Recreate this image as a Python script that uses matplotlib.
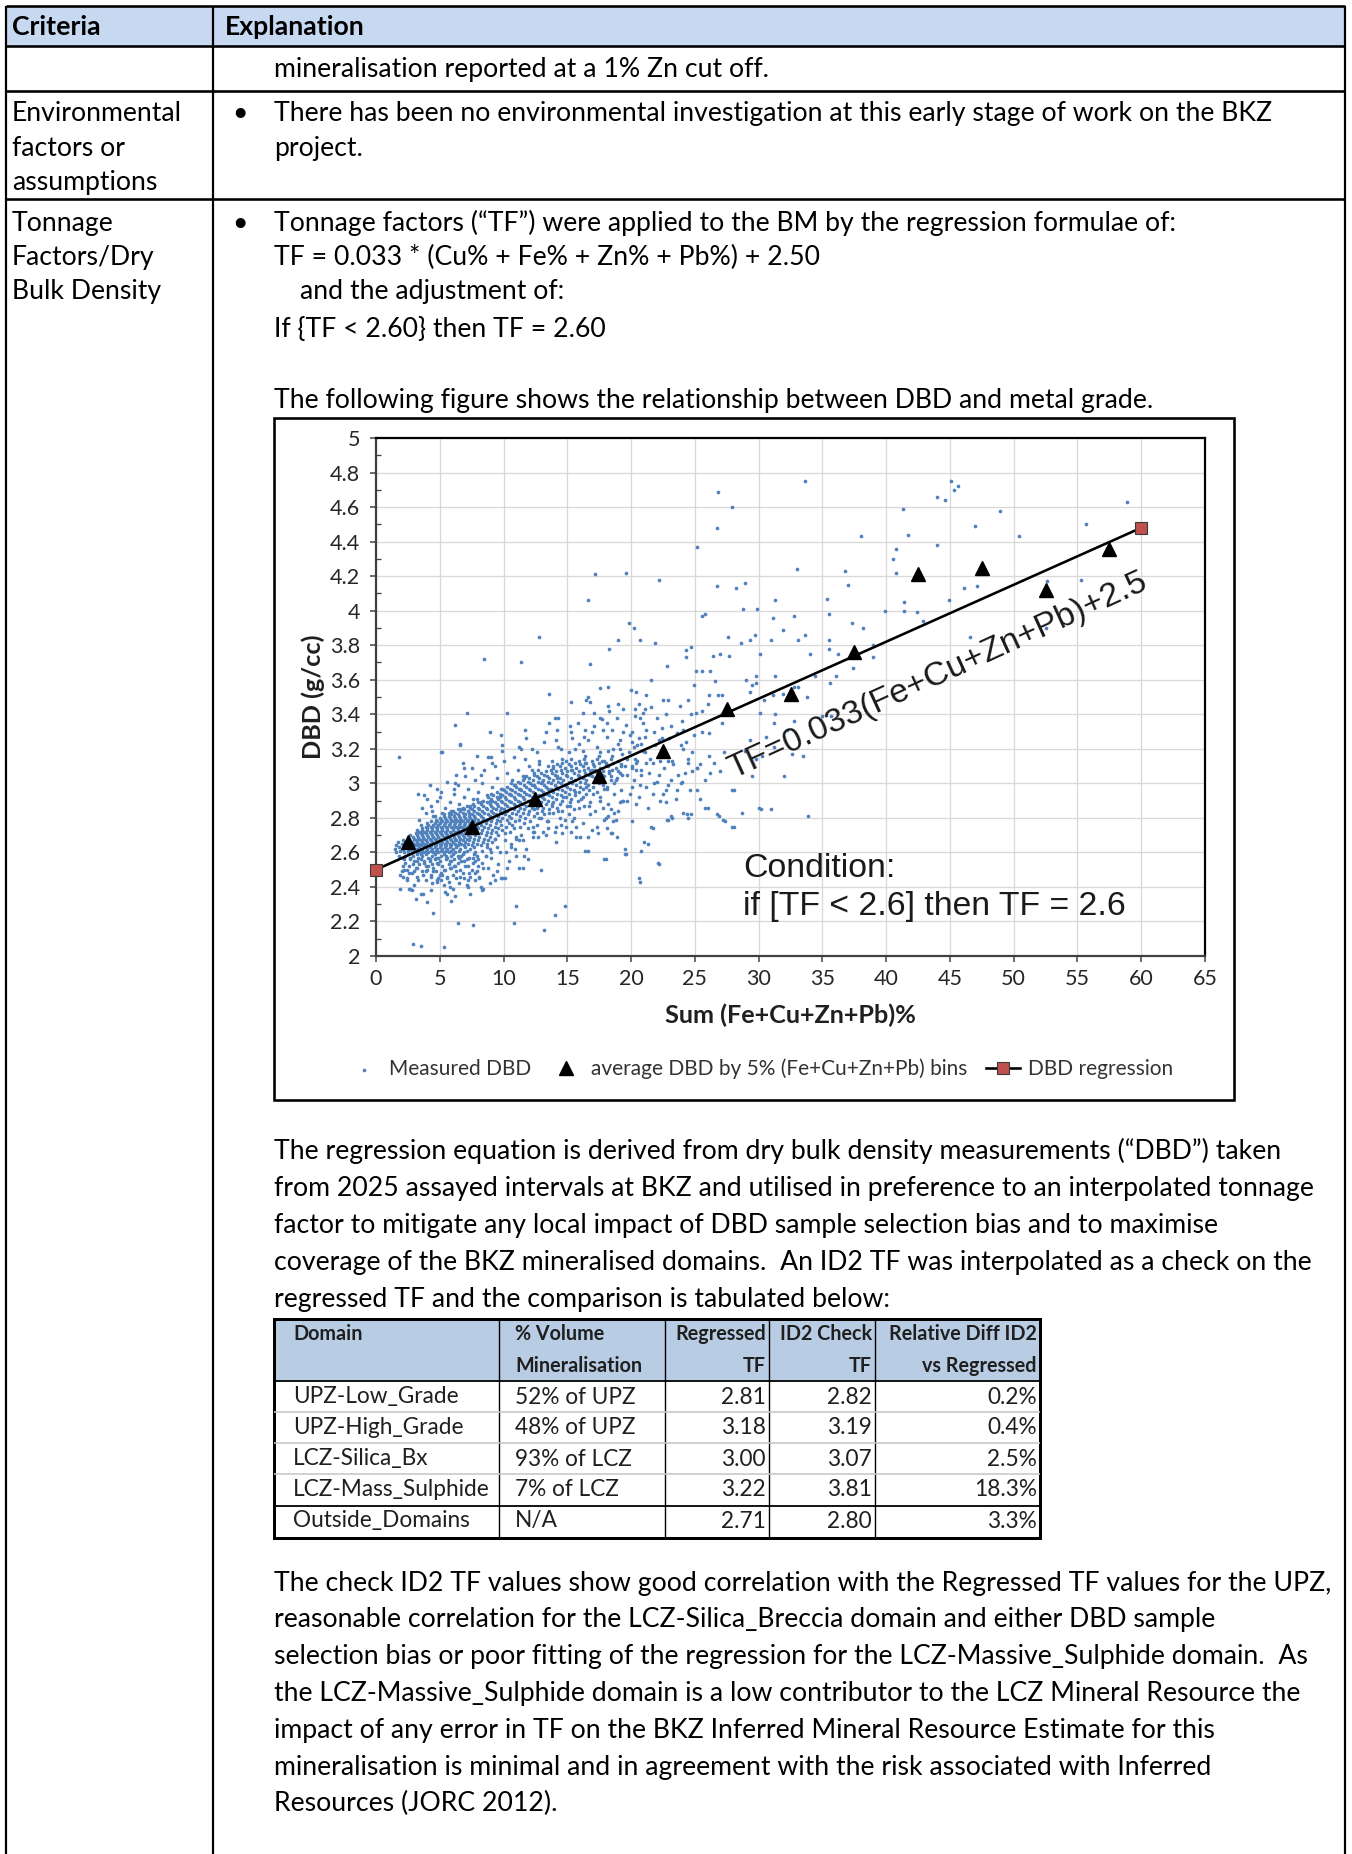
import matplotlib
matplotlib.use('Agg')
import matplotlib.pyplot as plt
from matplotlib.patches import Rectangle
from matplotlib.ticker import MultipleLocator, FuncFormatter
from matplotlib.textpath import TextToPath
from matplotlib.font_manager import FontProperties

W, H, DPI = 1352, 1854, 100
SANS = ['Lato', 'DejaVu Sans']
ARIAL = ['Liberation Sans', 'DejaVu Sans']
plt.rcParams['font.family'] = SANS

# ---------------- chart data ----------------
bin_mid = [2.5, 7.5, 12.5, 17.5, 22.5, 27.5, 32.5, 37.5, 42.5, 47.5, 52.5, 57.5]
bin_avg = [2.66, 2.75, 2.91, 3.04, 3.19, 3.43, 3.52, 3.76, 4.21, 4.25, 4.12, 4.36]
reg_x = [0, 60]
reg_y = [2.50, 4.48]
x_ticks = [0, 5, 10, 15, 20, 25, 30, 35, 40, 45, 50, 55, 60, 65]
y_ticks = [2, 2.2, 2.4, 2.6, 2.8, 3, 3.2, 3.4, 3.6, 3.8, 4, 4.2, 4.4, 4.6, 4.8, 5]

# dense cloud of measured DBD, one row per DBD value
core_rows = [
    (2.45, [2.4, 4.9, 6.3, 8.1]),
    (2.46, [3.2, 5.6, 7.4]),
    (2.47, [1.9, 4.3, 6.0, 9.2]),
    (2.48, [2.8, 5.1, 6.8]),
    (2.49, [3.6, 4.7, 7.9]),
    (2.50, [2.2, 4.0, 5.4, 6.6]),
    (2.51, [3.1, 4.5, 5.9, 8.4]),
    (2.52, [2.6, 3.9, 5.2, 6.2, 7.2]),
    (2.53, [3.4, 4.4, 5.7, 9.6]),
    (2.54, [2.3, 3.8, 4.8, 6.4, 7.6]),
    (2.55, [3.0, 4.2, 5.0, 5.8, 6.9]),
    (2.56, [2.7, 3.5, 4.6, 5.5, 6.1, 8.0]),
    (2.57, [2.1, 3.3, 4.1, 4.9, 5.6, 6.5, 7.3]),
    (2.58, [1.8, 2.9, 3.6, 4.4, 5.1, 5.9, 6.7, 8.6]),
    (2.59, [2.5, 3.2, 3.9, 4.6, 5.3, 6.0, 6.8, 7.7]),
    (2.60, [1.6, 2.2, 2.8, 3.3, 3.7, 4.1, 4.5, 4.9, 5.3, 5.7, 6.2, 6.9, 7.8, 10.2]),
    (2.61, [1.9, 2.5, 3.0, 3.5, 3.9, 4.3, 4.7, 5.1, 5.5, 5.9, 6.5, 7.1, 8.3]),
    (2.62, [1.5, 2.1, 2.7, 3.2, 3.6, 4.0, 4.4, 4.8, 5.2, 5.6, 6.0, 6.6, 7.4, 8.9]),
    (2.63, [1.8, 2.4, 2.9, 3.4, 3.8, 4.2, 4.6, 5.0, 5.4, 5.8, 6.3, 7.0, 7.7, 9.5]),
    (2.64, [1.6, 2.2, 2.7, 3.1, 3.5, 3.9, 4.3, 4.7, 5.1, 5.5, 5.9, 6.4, 6.9, 7.5, 8.2]),
    (2.65, [2.0, 2.5, 3.0, 3.4, 3.8, 4.2, 4.6, 5.0, 5.4, 5.8, 6.2, 6.7, 7.2, 7.9, 8.7, 10.6]),
    (2.66, [1.7, 2.3, 2.8, 3.2, 3.6, 4.0, 4.4, 4.8, 5.2, 5.6, 6.0, 6.5, 7.0, 7.6, 8.4, 9.1]),
    (2.67, [2.1, 2.6, 3.1, 3.5, 3.9, 4.3, 4.7, 5.1, 5.5, 5.9, 6.3, 6.8, 7.3, 8.0, 8.8]),
    (2.68, [2.6, 3.0, 3.4, 3.8, 4.2, 4.6, 5.0, 5.4, 5.8, 6.2, 6.6, 7.1, 7.7, 8.5, 9.3, 11.0]),
    (2.69, [2.9, 3.3, 3.7, 4.1, 4.5, 4.9, 5.3, 5.7, 6.1, 6.5, 6.9, 7.4, 8.1, 8.9]),
    (2.70, [2.7, 3.2, 3.6, 4.0, 4.4, 4.8, 5.2, 5.6, 6.0, 6.4, 6.8, 7.2, 7.8, 8.6, 9.6, 11.4]),
    (2.71, [3.1, 3.5, 3.9, 4.3, 4.7, 5.1, 5.5, 5.9, 6.3, 6.7, 7.1, 7.5, 8.2, 9.0, 10.1]),
    (2.72, [3.4, 3.8, 4.2, 4.6, 5.0, 5.4, 5.8, 6.2, 6.6, 7.0, 7.4, 7.9, 8.7, 9.4, 10.5, 12.3]),
    (2.73, [3.2, 3.6, 4.0, 4.4, 4.8, 5.2, 5.6, 6.0, 6.4, 6.8, 7.2, 7.6, 8.3, 9.1, 9.9]),
    (2.74, [3.6, 4.0, 4.4, 4.8, 5.2, 5.6, 6.0, 6.4, 6.8, 7.2, 7.6, 8.0, 8.8, 9.6, 10.8, 11.9]),
    (2.75, [3.9, 4.3, 4.7, 5.1, 5.5, 5.9, 6.3, 6.7, 7.1, 7.5, 7.9, 8.5, 9.3, 10.2, 11.3]),
    (2.76, [3.5, 4.1, 4.5, 4.9, 5.3, 5.7, 6.1, 6.5, 6.9, 7.3, 7.7, 8.2, 8.9, 9.8, 10.7, 12.6]),
    (2.77, [4.0, 4.6, 5.0, 5.4, 5.8, 6.2, 6.6, 7.0, 7.4, 7.9, 8.6, 9.4, 10.4, 11.6]),
    (2.78, [4.3, 4.8, 5.2, 5.6, 6.0, 6.4, 6.8, 7.2, 7.7, 8.3, 9.0, 9.7, 10.9, 12.1, 13.5]),
    (2.79, [4.7, 5.1, 5.5, 5.9, 6.3, 6.7, 7.1, 7.5, 8.0, 8.7, 9.5, 10.3, 11.2]),
    (2.80, [5.0, 5.4, 5.8, 6.2, 6.6, 7.0, 7.4, 7.8, 8.4, 9.1, 9.9, 10.6, 11.7, 12.8, 14.4]),
    (2.81, [4.5, 5.3, 5.7, 6.1, 6.5, 6.9, 7.3, 7.7, 8.2, 8.9, 9.6, 10.4, 11.3, 12.4]),
    (2.82, [5.3, 5.9, 6.4, 7.0, 7.5, 8.1, 8.8, 9.4, 10.1, 11.0, 11.9, 13.2, 15.1]),
    (2.83, [5.7, 6.2, 6.8, 7.3, 7.9, 8.5, 9.2, 9.9, 10.7, 11.5, 12.6, 13.9]),
    (2.84, [6.0, 6.6, 7.2, 7.7, 8.3, 9.0, 9.7, 10.3, 11.1, 12.0, 13.0, 14.6]),
    (2.85, [6.4, 6.9, 7.5, 8.1, 8.7, 9.4, 10.0, 10.8, 11.6, 12.4, 13.6, 15.5]),
    (2.86, [6.8, 7.4, 8.0, 8.6, 9.2, 9.8, 10.5, 11.3, 12.2, 13.1, 14.2]),
    (2.87, [7.1, 7.7, 8.4, 9.0, 9.6, 10.3, 11.0, 11.8, 12.7, 13.8, 15.0, 16.3]),
    (2.88, [7.6, 8.2, 8.9, 9.5, 10.1, 10.8, 11.5, 12.3, 13.3, 14.4]),
    (2.89, [8.0, 8.7, 9.3, 9.9, 10.6, 11.3, 12.1, 12.9, 13.9, 15.2, 16.8]),
    (2.90, [8.4, 9.1, 9.8, 10.4, 11.1, 11.9, 12.6, 13.5, 14.6, 15.8]),
    (2.91, [7.9, 9.0, 9.6, 10.2, 10.9, 11.6, 12.4, 13.2, 14.1, 15.3]),
    (2.92, [8.8, 9.5, 10.1, 10.8, 11.5, 12.2, 13.0, 13.8, 14.9, 16.2, 17.6]),
    (2.93, [9.2, 9.9, 10.6, 11.3, 12.0, 12.8, 13.6, 14.5, 15.6]),
    (2.94, [9.0, 9.7, 10.4, 11.1, 11.8, 12.5, 13.3, 14.2, 15.1, 16.5]),
    (2.95, [9.5, 10.2, 10.9, 11.6, 12.3, 13.1, 13.9, 14.8, 15.9, 17.3]),
    (2.96, [10.0, 10.7, 11.4, 12.1, 12.9, 13.7, 14.6, 15.5, 16.7]),
    (2.97, [9.8, 10.5, 11.2, 12.0, 12.7, 13.5, 14.3, 15.2, 16.2, 18.1]),
    (2.98, [10.3, 11.0, 11.8, 12.5, 13.3, 14.1, 15.0, 16.0, 17.0]),
    (2.99, [10.8, 11.6, 12.4, 13.2, 14.0, 14.8, 15.7, 16.6, 17.8]),
    (3.00, [10.6, 11.3, 12.1, 12.9, 13.7, 14.5, 15.4, 16.4, 17.5, 18.7]),
    (3.01, [11.1, 11.9, 12.7, 13.5, 14.3, 15.1, 16.0, 17.1]),
    (3.02, [11.5, 12.3, 13.1, 13.9, 14.7, 15.6, 16.5, 17.4, 18.4]),
    (3.03, [12.0, 12.8, 13.6, 14.4, 15.3, 16.2, 17.2, 18.9]),
    (3.04, [11.8, 12.6, 13.4, 14.2, 15.0, 15.9, 16.9, 17.9]),
    (3.05, [12.4, 13.2, 14.0, 14.9, 15.8, 16.7, 17.7, 19.3]),
    (3.06, [12.9, 13.8, 14.6, 15.5, 16.4, 17.3, 18.3]),
    (3.07, [13.3, 14.1, 15.0, 15.9, 16.8, 17.8, 19.0]),
    (3.08, [12.7, 13.7, 14.5, 15.4, 16.3, 17.2, 18.5]),
    (3.09, [13.9, 14.8, 15.7, 16.6, 17.6, 18.8, 20.1]),
    (3.10, [13.5, 14.4, 15.3, 16.2, 17.1, 18.2, 19.5]),
    (3.11, [14.2, 15.1, 16.0, 17.0, 18.0, 19.2]),
    (3.12, [14.6, 15.6, 16.5, 17.5, 18.6, 20.4]),
    (3.13, [13.8, 14.9, 15.9, 16.9, 17.9, 19.0]),
    (3.14, [15.3, 16.3, 17.3, 18.4, 19.7]),
]

# looser points round the dense cloud
halo_pts = [
    (2.3, 2.58), (2.9, 2.53), (3.5, 2.59), (4.1, 2.52), (4.7, 2.57), (5.3, 2.50), (5.9, 2.55),
    (6.4, 2.58), (7.0, 2.52), (7.6, 2.57), (8.3, 2.54), (9.0, 2.57), (2.6, 2.48), (3.3, 2.44),
    (3.9, 2.49), (4.4, 2.42), (5.0, 2.47), (5.7, 2.43), (6.3, 2.49), (6.9, 2.45), (7.5, 2.50),
    (8.1, 2.46), (8.8, 2.51), (2.4, 2.44), (3.0, 2.41), (3.7, 2.47), (4.2, 2.56), (4.9, 2.53),
    (5.5, 2.58), (6.1, 2.52), (6.7, 2.55), (7.3, 2.48), (8.0, 2.52), (8.6, 2.58), (3.2, 2.51),
    (3.8, 2.55), (4.5, 2.49), (5.1, 2.44), (5.8, 2.51), (6.5, 2.42), (7.1, 2.56), (7.8, 2.44),
    (2.1, 2.52), (2.7, 2.57), (4.3, 2.38), (5.4, 2.37), (6.2, 2.35), (3.1, 2.33), (4.0, 2.31),
    (5.9, 2.32), (7.4, 2.36), (8.9, 2.42), (9.5, 2.49), (10.4, 2.55), (9.7, 2.60), (10.9, 2.62),
    (11.6, 2.58),
    (3.4, 2.79), (3.9, 2.83), (4.3, 2.87), (4.6, 2.81), (5.0, 2.92), (5.4, 2.86), (5.8, 2.89),
    (6.1, 2.94), (6.5, 2.88), (6.9, 2.92), (7.2, 2.97), (7.6, 2.91), (8.0, 2.95), (8.3, 3.00),
    (8.7, 2.93), (9.1, 2.98), (9.5, 3.03), (9.9, 2.97), (10.3, 3.06), (10.7, 3.02), (11.1, 3.08),
    (11.5, 3.04), (12.0, 3.10), (12.4, 3.06), (12.8, 3.11), (4.0, 2.91), (4.8, 2.97), (5.6, 3.01),
    (6.4, 2.99), (7.0, 3.04), (7.8, 3.02), (8.5, 3.08), (9.3, 3.10), (10.0, 3.13), (10.8, 3.15),
    (11.7, 3.14), (3.6, 2.86), (4.4, 2.84), (5.2, 2.83), (5.9, 2.84), (6.7, 2.85), (7.4, 2.87),
    (8.2, 2.89), (8.9, 2.90), (9.7, 2.92), (10.5, 2.94), (11.3, 2.97), (12.2, 2.99), (13.0, 3.01),
    (5.1, 2.95), (6.3, 3.05), (7.5, 3.09), (8.8, 3.15), (9.9, 3.19), (4.2, 2.99), (3.8, 2.93),
    (6.8, 3.12), (7.9, 3.16),
    (12.3, 2.75), (12.9, 2.80), (13.4, 2.78), (13.8, 2.88), (14.3, 2.84), (14.7, 2.92), (15.2, 2.87),
    (15.6, 2.95), (16.1, 2.91), (16.5, 2.98), (17.0, 2.94), (17.4, 3.01), (17.9, 2.97), (18.3, 3.07),
    (18.8, 3.02), (19.2, 3.10), (19.7, 3.05), (20.3, 3.14), (20.9, 3.19), (21.4, 3.06), (21.9, 3.22),
    (22.6, 3.09), (23.0, 3.26), (23.7, 3.05), (24.3, 3.24), (24.9, 3.28), (12.6, 2.86), (13.1, 2.93),
    (13.7, 2.97), (14.2, 3.03), (14.8, 2.99), (15.3, 3.08), (15.9, 3.04), (16.4, 3.12), (16.9, 3.08),
    (17.5, 3.16), (18.0, 3.12), (18.6, 3.20), (19.1, 3.25), (19.8, 3.18), (20.5, 3.22), (21.1, 3.27),
    (21.8, 3.30), (22.4, 3.26), (23.1, 3.33), (23.6, 3.29), (24.2, 3.06), (24.8, 3.18), (13.3, 2.70),
    (14.1, 2.66), (14.6, 2.71), (15.5, 2.80), (16.2, 2.77), (16.8, 2.82), (17.6, 2.90), (18.2, 2.88),
    (19.0, 2.84), (19.9, 2.94), (20.6, 2.92), (21.3, 2.86), (22.0, 3.01), (22.9, 2.99), (23.5, 2.91),
    (24.6, 2.96), (13.9, 3.10), (14.6, 3.14), (15.6, 3.20), (16.3, 3.27), (17.1, 3.33), (17.7, 3.37),
    (18.9, 3.38), (19.6, 3.34), (20.9, 3.41), (21.6, 3.44), (22.7, 3.40), (23.8, 3.45), (12.2, 3.08),
    (11.6, 3.03), (10.9, 2.99),
]

mid_pts = [
    (2.55, 2.39), (1.9, 2.39), (2.8, 2.38), (3.7, 2.36), (4.5, 2.25), (5.3, 2.41), (5.8, 2.40),
    (6.4, 2.19), (7.6, 2.18), (2.9, 2.07), (3.5, 2.06), (5.3, 2.05), (7.2, 2.40), (8.3, 2.38),
    (8.2, 2.40), (9.8, 2.45), (10.1, 2.45), (11.0, 2.29), (10.8, 2.19), (11.2, 2.51), (11.5, 2.51),
    (11.9, 2.56), (12.9, 2.50), (13.2, 2.15), (14.0, 2.24), (14.8, 2.29), (16.6, 2.61), (18.0, 2.56),
    (19.6, 2.59), (20.7, 2.43), (20.8, 2.61), (21.3, 2.65), (22.2, 2.53), (21.7, 2.74), (20.1, 2.78),
    (22.9, 2.79), (24.4, 2.82), (24.7, 2.82), (26.0, 2.86), (26.9, 2.81), (27.4, 2.78), (28.1, 2.75),
    (28.7, 2.83), (28.1, 2.96), (30.2, 2.85), (18.5, 2.71), (18.1, 2.74), (16.9, 2.73), (17.3, 2.75),
    (16.6, 2.69), (16.0, 2.69), (17.9, 2.79), (18.6, 2.78), (18.2, 2.81), (18.7, 2.83), (19.1, 2.89),
    (19.4, 2.90), (22.7, 2.89), (23.2, 2.80), (25.4, 2.91), (23.9, 3.00), (23.6, 2.96), (25.8, 3.02),
    (26.2, 3.06), (27.0, 3.07), (24.8, 3.07), (25.2, 3.09), (20.4, 3.08), (20.8, 3.05), (20.7, 2.99),
    (21.8, 3.00), (22.2, 3.05), (22.7, 2.96), (22.8, 2.79), (6.2, 3.00), (6.1, 2.97), (4.8, 2.90),
    (3.3, 2.94), (8.2, 3.05), (6.9, 3.09), (6.6, 3.23), (5.2, 3.18), (9.0, 3.15), (9.1, 3.12),
    (2.2, 2.56), (2.0, 2.49), (2.1, 2.46), (2.4, 2.50), (3.0, 2.49), (3.2, 2.55), (4.3, 2.46),
    (4.8, 2.44), (5.2, 2.47), (5.6, 2.45), (6.6, 2.46), (7.2, 2.44), (7.9, 2.58), (7.8, 2.55),
    (8.7, 2.63), (9.0, 2.60), (9.3, 2.68), (10.1, 2.67), (10.6, 2.63), (11.0, 2.69), (11.5, 2.67),
    (12.4, 2.72), (12.7, 2.69), (13.5, 2.74), (14.0, 2.72), (14.5, 2.76), (14.8, 2.79), (15.4, 2.78),
    (15.7, 2.75), (15.7, 2.69), (16.4, 2.61), (17.9, 2.56), (19.5, 2.59), (18.4, 2.85), (18.8, 2.79),
    (19.3, 2.90), (19.2, 2.96), (20.1, 2.98), (17.4, 2.71), (18.0, 2.80), (18.4, 2.71), (18.9, 2.69),
    (15.9, 2.86), (16.7, 2.87), (17.2, 2.84), (14.9, 2.75), (15.3, 2.72), (13.6, 2.83), (14.1, 2.75),
    (13.1, 2.72), (12.3, 2.69), (11.2, 2.67), (11.8, 2.62), (11.0, 2.58), (10.3, 2.51), (9.9, 2.45),
    (9.3, 2.44), (7.8, 2.48), (7.1, 2.41), (8.4, 2.39), (6.0, 2.39), (5.6, 2.36), (4.8, 2.43),
    (3.9, 2.44), (3.5, 2.36), (2.7, 2.39), (17.7, 3.13), (20.1, 3.10), (20.5, 3.13), (20.8, 3.08),
    (21.2, 3.12), (22.3, 3.13), (23.2, 3.13), (21.2, 2.98), (21.7, 2.94), (20.2, 3.02), (19.1, 3.06),
    (18.4, 3.04), (18.1, 2.98), (18.7, 2.94), (19.7, 2.90), (20.4, 2.88), (17.8, 2.86), (29.5, 3.04),
    (27.9, 2.96), (25.8, 2.86), (25.2, 2.96), (30.0, 2.86), (31.0, 2.85), (33.9, 2.81), (32.0, 3.04),
    (23.1, 3.02), (24.0, 3.01), (24.5, 3.12), (25.4, 3.11), (24.1, 2.83), (24.5, 2.80), (26.7, 2.82),
    (27.2, 2.79), (27.9, 2.75), (21.0, 2.66), (21.6, 2.75), (19.5, 2.62), (22.1, 2.54), (20.6, 2.45),
    (22.3, 2.90), (23.1, 2.81), (22.5, 2.94), (29.8, 3.14),
]

upper_pts = [
    (26.8, 4.69), (27.9, 4.60), (26.7, 4.48), (25.2, 4.37), (17.2, 4.21), (19.6, 4.22), (22.2, 4.18),
    (16.6, 4.06), (26.7, 4.14), (28.2, 4.13), (28.9, 4.16), (28.8, 4.01), (29.9, 4.01), (25.6, 3.97),
    (25.8, 3.98), (19.8, 3.93), (20.2, 3.90), (31.1, 3.96), (19.0, 3.83), (20.7, 3.83), (21.9, 3.81),
    (18.3, 3.78), (24.7, 3.79), (24.3, 3.77), (24.3, 3.73), (27.6, 3.85), (28.6, 3.81), (29.3, 3.83),
    (29.7, 3.86), (31.0, 3.83), (30.1, 3.75), (26.4, 3.74), (27.0, 3.75), (27.7, 3.74), (12.8, 3.85),
    (8.5, 3.72), (11.4, 3.70), (16.8, 3.69), (22.8, 3.68), (25.1, 3.65), (25.6, 3.65), (26.2, 3.65),
    (21.6, 3.60), (29.0, 3.60), (29.8, 3.62), (29.5, 3.57), (29.8, 3.58), (24.9, 3.57), (26.6, 3.59),
    (29.3, 3.53), (31.1, 3.51), (17.6, 3.55), (18.2, 3.56), (20.0, 3.54), (20.4, 3.53), (21.2, 3.51),
    (26.1, 3.51), (26.8, 3.51), (27.1, 3.51), (13.6, 3.52), (16.6, 3.50), (16.8, 3.47), (16.5, 3.48),
    (24.5, 3.48), (22.5, 3.48), (22.9, 3.48), (15.3, 3.47), (20.6, 3.46), (26.0, 3.46), (30.4, 3.48),
    (18.2, 3.45), (19.0, 3.46), (19.4, 3.43), (20.3, 3.43), (21.1, 3.43), (25.6, 3.42), (24.7, 3.40),
    (25.1, 3.41), (7.1, 3.41), (10.3, 3.41), (16.2, 3.41), (17.1, 3.41), (18.3, 3.42), (27.1, 3.35),
    (30.1, 3.41), (6.2, 3.34), (13.6, 3.35), (14.0, 3.38), (14.3, 3.38), (15.2, 3.33), (15.8, 3.35),
    (17.6, 3.38), (18.1, 3.35), (20.3, 3.39), (20.7, 3.38), (20.9, 3.35), (22.0, 3.38), (22.4, 3.32),
    (24.0, 3.36), (24.1, 3.31), (8.9, 3.30), (11.7, 3.31), (13.3, 3.30), (14.2, 3.31), (15.3, 3.30),
    (16.4, 3.31), (16.9, 3.30), (17.8, 3.31), (18.5, 3.31), (19.4, 3.30), (20.1, 3.30), (21.2, 3.31),
    (25.6, 3.30), (26.1, 3.29), (29.3, 3.25), (30.6, 3.27), (6.6, 3.22), (9.8, 3.28), (9.9, 3.22),
    (5.1, 3.18), (1.8, 3.15), (11.2, 3.21), (11.4, 3.20), (11.8, 3.26), (12.2, 3.20), (12.6, 3.18),
    (12.8, 3.13), (13.2, 3.24), (14.1, 3.25), (14.3, 3.21), (14.5, 3.20), (15.1, 3.18), (15.4, 3.26),
    (15.9, 3.23), (16.2, 3.19), (16.4, 3.16), (16.6, 3.25), (17.3, 3.21), (17.6, 3.18), (18.1, 3.27),
    (18.2, 3.19), (18.5, 3.16), (19.0, 3.23), (19.1, 3.20), (19.3, 3.17), (19.9, 3.28), (20.1, 3.24),
    (20.2, 3.21), (20.6, 3.26), (20.8, 3.23), (21.1, 3.18), (21.5, 3.14), (21.7, 3.12), (22.2, 3.25),
    (22.4, 3.20), (22.9, 3.13), (23.3, 3.11), (23.9, 3.22), (24.1, 3.20), (24.5, 3.14), (25.2, 3.09),
    (26.1, 3.16), (26.5, 3.12), (27.3, 3.18), (28.9, 3.19), (30.3, 3.16),
]

right_pts = [
    (33.6, 4.75), (45.1, 4.75), (45.3, 4.70), (45.6, 4.72), (44.0, 4.66), (44.6, 4.64), (58.9, 4.63),
    (41.3, 4.59), (48.9, 4.58), (47.0, 4.49), (55.7, 4.50), (38.0, 4.43), (41.7, 4.44), (50.4, 4.43),
    (44.0, 4.38), (40.8, 4.36), (40.5, 4.30), (33.0, 4.24), (36.8, 4.23), (40.8, 4.22), (37.0, 4.15),
    (46.1, 4.13), (47.1, 4.14), (52.6, 4.17), (55.3, 4.18), (31.3, 4.06), (35.4, 4.07), (44.9, 4.06),
    (35.5, 3.98), (32.8, 3.97), (39.9, 4.00), (41.4, 4.05), (41.4, 4.00), (42.4, 3.99), (42.9, 3.94),
    (31.9, 3.89), (37.3, 3.93), (38.2, 3.90), (33.6, 3.86), (33.1, 3.83), (35.5, 3.83), (35.5, 3.78),
    (39.0, 3.80), (39.0, 3.73), (46.6, 3.85), (52.5, 3.90), (34.0, 3.75), (36.2, 3.75), (35.6, 3.58),
    (36.1, 3.62), (37.4, 3.67), (34.4, 3.62), (31.3, 3.62), (33.8, 3.50), (32.8, 3.56), (33.1, 3.56),
    (31.9, 3.52), (31.3, 3.40), (31.2, 3.35), (32.2, 3.31), (32.8, 3.36), (31.2, 3.21), (35.0, 3.39),
    (35.7, 3.39), (32.6, 3.17), (33.5, 3.16),
]

# ---------------- table data ----------------
tbl_head1 = ['Domain', '% Volume', 'Regressed', 'ID2 Check', 'Relative Diff ID2']
tbl_head2 = ['', 'Mineralisation', 'TF', 'TF', 'vs Regressed']
domains = ['UPZ-Low_Grade', 'UPZ-High_Grade', 'LCZ-Silica_Bx', 'LCZ-Mass_Sulphide', 'Outside_Domains']
vol_share = ['52% of UPZ', '48% of UPZ', '93% of LCZ', '7% of LCZ', 'N/A']
regressed_tf = [2.81, 3.18, 3.00, 3.22, 2.71]
id2_tf = [2.82, 3.19, 3.07, 3.81, 2.80]
rel_diff = [0.2, 0.4, 2.5, 18.3, 3.3]

# ---------------- page text ----------------
env_left = ['Environmental', 'factors or', 'assumptions']
env_text = ['There has been no environmental investigation at this early stage of work on the BKZ',
            'project.']
tf_left = ['Tonnage', 'Factors/Dry', 'Bulk Density']
tf_text = ['Tonnage factors (\u201cTF\u201d) were applied to the BM by the regression formulae of:',
           'TF = 0.033 * (Cu% + Fe% + Zn% + Pb%) + 2.50',
           'and the adjustment of:',
           'If {TF < 2.60} then TF = 2.60',
           'The following figure shows the relationship between DBD and metal grade.']
para1 = ['The regression equation is derived from dry bulk density measurements (\u201cDBD\u201d) taken',
         'from 2025 assayed intervals at BKZ and utilised in preference to an interpolated tonnage',
         'factor to mitigate any local impact of DBD sample selection bias and to maximise',
         'coverage of the BKZ mineralised domains.  An ID2 TF was interpolated as a check on the',
         'regressed TF and the comparison is tabulated below:']
para2 = ['The check ID2 TF values show good correlation with the Regressed TF values for the UPZ,',
         'reasonable correlation for the LCZ-Silica_Breccia domain and either DBD sample',
         'selection bias or poor fitting of the regression for the LCZ-Massive_Sulphide domain.  As',
         'the LCZ-Massive_Sulphide domain is a low contributor to the LCZ Mineral Resource the',
         'impact of any error in TF on the BKZ Inferred Mineral Resource Estimate for this',
         'mineralisation is minimal and in agreement with the risk associated with Inferred',
         'Resources (JORC 2012).']

_t2p = TextToPath()


def fit(s, width_px, family=SANS, weight='normal'):
    # font size (pt) that makes s about width_px wide
    fp = FontProperties(family=family, weight=weight, size=100)
    w, _, _ = _t2p.get_text_width_height_descent(s, fp, ismath=False)
    return 100 * (width_px * 72 / DPI) / w


def lw(p):
    return p * 72 / DPI


body_fs = fit(env_text[0], 998)
tbl_fs = fit('LCZ-Mass_Sulphide', 197)
hdr_fs = fit('Relative Diff ID2', 148, weight='bold')
title_fs = fit('Sum (Fe+Cu+Zn+Pb)%', 252, weight='bold')
leg_fs = fit('average DBD by 5% (Fe+Cu+Zn+Pb) bins', 378)
tick_fs = fit('4.8', 30)
note_fs = fit('if [TF < 2.6] then TF = 2.6', 382, family=ARIAL)

fig = plt.figure(figsize=(W / DPI, H / DPI), dpi=DPI)
fig.patch.set_facecolor('white')
page = fig.add_axes([0, 0, 1, 1])
page.set_xlim(0, W)
page.set_ylim(H, 0)
page.axis('off')

# outer table of the document
L, D, R = 6, 213, 1345
page.add_patch(Rectangle((L, 6), R - L, 40, color='#C6D9F1', lw=0))
for y in [6, 46, 91, 199]:
    page.plot([L, R], [y, y], color='black', lw=lw(2.6), solid_capstyle='butt')
for x in [L, D, R]:
    page.plot([x, x], [6, H], color='black', lw=lw(2.2), solid_capstyle='butt')


def txt(x, y, s, **kw):
    opts = dict(fontsize=body_fs, va='center', ha='left', color='black')
    opts.update(kw)
    page.text(x, y, s, **opts)


txt(12, 27, 'Criteria', fontweight='bold')
txt(225, 27, 'Explanation', fontweight='bold')
txt(274, 69, 'mineralisation reported at a 1% Zn cut off.')
for s, y in zip(env_left, [113, 148, 182]):
    txt(12, y, s)
txt(232, 113, '\u2022')
for s, y in zip(env_text, [113, 148]):
    txt(274, y, s)
for s, y in zip(tf_left, [223, 257, 291]):
    txt(12, y, s)
txt(232, 223, '\u2022')
for s, x, y in zip(tf_text, [274, 274, 300, 274, 274], [223, 257, 291, 329, 400]):
    txt(x, y, s)
for i, s in enumerate(para1):
    txt(274, 1151 + i * 37.2, s)
for i, s in enumerate(para2):
    txt(274, 1583 + i * 36.8, s)

# chart frame
page.add_patch(Rectangle((274, 418), 960, 682, fill=False, ec='black', lw=lw(2.6)))

# ---------------- the scatter chart ----------------
ax = fig.add_axes([376 / W, 1 - 956 / H, (1205 - 376) / W, (956 - 438) / H])
mx, my = [], []
for y, xs in core_rows:
    mx += xs
    my += [y] * len(xs)
for x, y in halo_pts + mid_pts + upper_pts + right_pts:
    mx.append(x)
    my.append(y)

sc = ax.scatter(mx, my, s=7, color='#4F81BD', linewidths=0, zorder=2, label='Measured DBD')
reg, = ax.plot(reg_x, reg_y, color='black', lw=lw(2.6), marker='s', ms=lw(12), mfc='#C0504D',
               mec='#3a3a3a', mew=0.8, zorder=3, clip_on=False, label='DBD regression')
tri, = ax.plot(bin_mid, bin_avg, ls='none', marker='^', ms=lw(14), color='black', zorder=4,
               label='average DBD by 5% (Fe+Cu+Zn+Pb) bins')

ax.set_xlim(0, 65)
ax.set_ylim(2, 5)
ax.set_xticks(x_ticks)
ax.set_yticks(y_ticks)
ax.yaxis.set_major_formatter(FuncFormatter(lambda v, p: '%g' % v))
ax.yaxis.set_minor_locator(MultipleLocator(0.1))
ax.grid(True, which='major', color='#D9D9D9', lw=lw(1.3))
ax.set_axisbelow(True)
for side in ['left', 'bottom']:
    ax.spines[side].set_color('#404040')
    ax.spines[side].set_linewidth(lw(2.2))
for side in ['top', 'right']:
    ax.spines[side].set_color('black')
    ax.spines[side].set_linewidth(lw(2.2))
ax.tick_params(which='major', direction='out', length=lw(6), width=lw(1.5), color='#404040',
               labelsize=tick_fs, labelcolor='#262626')
ax.tick_params(axis='y', which='major', pad=lw(10))
ax.tick_params(axis='x', which='major', pad=lw(7))
ax.tick_params(axis='y', which='minor', direction='in', length=lw(5), width=lw(1.3), color='#404040')

ax.set_xlabel('Sum (Fe+Cu+Zn+Pb)%', fontsize=title_fs, fontweight='bold', color='#1f1f1f', va='center')
ax.xaxis.set_label_coords(0.5, -(1015 - 956) / 518)
ax.set_ylabel('DBD (g/cc)', fontsize=title_fs, fontweight='bold', color='#1f1f1f', va='center')
ax.yaxis.set_label_coords((313 - 376) / 829, 0.5)

ax.text(28.0, 3.03, 'TF=0.033(Fe+Cu+Zn+Pb)+2.5', family=ARIAL, fontsize=note_fs, color='#1a1a1a',
        rotation=24.6, rotation_mode='anchor', ha='left', va='baseline', zorder=5)
ax.text(28.8, 2.46, 'Condition:', family=ARIAL, fontsize=note_fs, color='#1a1a1a',
        ha='left', va='baseline', zorder=5)
ax.text(28.8, 2.24, 'if [TF < 2.6] then TF = 2.6', family=ARIAL, fontsize=note_fs, color='#1a1a1a',
        ha='left', va='baseline', zorder=5)

leg_px = leg_fs * DPI / 72
leg = ax.legend(handles=[sc, tri, reg], loc='center', bbox_to_anchor=(760 / W, 1 - 1069 / H),
                bbox_transform=fig.transFigure, ncol=3, frameon=False, fontsize=leg_fs,
                handlelength=34 / leg_px, handletextpad=8 / leg_px, columnspacing=18 / leg_px,
                borderpad=0, borderaxespad=0, scatterpoints=1, numpoints=1)
for t in leg.get_texts():
    t.set_color('#333333')

# ---------------- comparison table ----------------
tx0, tx1 = 274, 1040
col_edges = [274, 499, 665, 769, 875, 1040]
ty_top, ty_head, ty_bot = 1319, 1381, 1538
row_lines = [1412, 1443, 1474, 1506]
head_y = [1334, 1366]
row_y = [1397, 1428, 1459, 1490, 1521]

page.add_patch(Rectangle((tx0, ty_top), tx1 - tx0, ty_head - ty_top, color='#B8CCE4', lw=0))
for x in col_edges[1:-1]:
    page.plot([x, x], [ty_top, ty_bot], color='black', lw=lw(1.4), solid_capstyle='butt')
for y in row_lines[:-1]:
    page.plot([tx0, tx1], [y, y], color='#C8C8C8', lw=lw(1.6), solid_capstyle='butt')
page.plot([tx0, tx1], [row_lines[-1], row_lines[-1]], color='black', lw=lw(1.8), solid_capstyle='butt')
page.plot([tx0, tx1], [ty_head, ty_head], color='black', lw=lw(1.8), solid_capstyle='butt')
page.add_patch(Rectangle((tx0, ty_top), tx1 - tx0, ty_bot - ty_top, fill=False, ec='black', lw=lw(3)))

for j, (h1, h2) in enumerate(zip(tbl_head1, tbl_head2)):
    if j == 0:
        x, ha = col_edges[0] + 19, 'left'
    elif j == 1:
        x, ha = col_edges[1] + 16, 'left'
    else:
        x, ha = col_edges[j + 1] - 3, 'right'
    txt(x, head_y[0], h1, fontsize=hdr_fs, fontweight='bold', ha=ha, color='#1F1F1F')
    if h2:
        txt(x, head_y[1], h2, fontsize=hdr_fs, fontweight='bold', ha=ha, color='#1F1F1F')

for i, y in enumerate(row_y):
    txt(col_edges[0] + 19, y, domains[i], fontsize=tbl_fs, color='#1F1F1F')
    txt(col_edges[1] + 16, y, vol_share[i], fontsize=tbl_fs, color='#1F1F1F')
    txt(col_edges[3] - 3, y, '%.2f' % regressed_tf[i], fontsize=tbl_fs, ha='right', color='#1F1F1F')
    txt(col_edges[4] - 3, y, '%.2f' % id2_tf[i], fontsize=tbl_fs, ha='right', color='#1F1F1F')
    txt(col_edges[5] - 3, y, '%.1f%%' % rel_diff[i], fontsize=tbl_fs, ha='right', color='#1F1F1F')

fig.savefig('out.png', dpi=DPI, facecolor='white')
